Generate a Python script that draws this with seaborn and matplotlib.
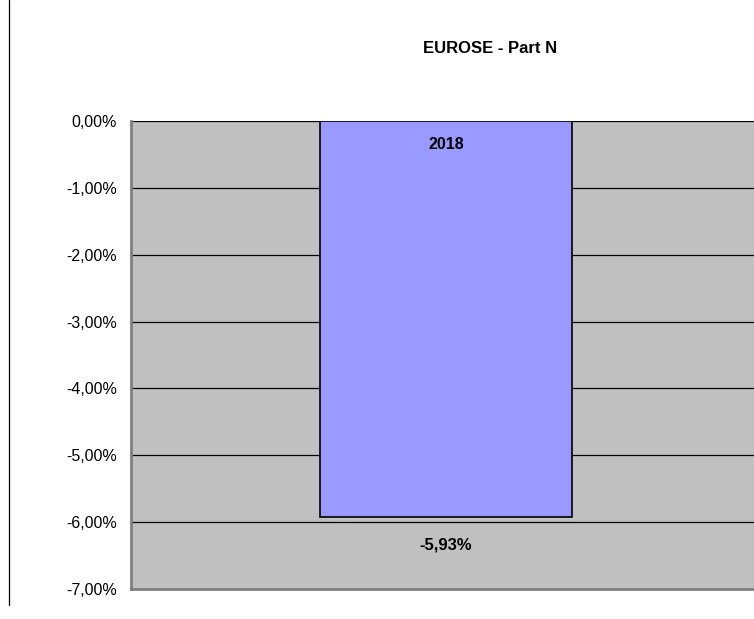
import matplotlib
matplotlib.use('Agg')
import matplotlib.pyplot as plt
import seaborn as sns
import pandas as pd
from matplotlib.ticker import FuncFormatter, MultipleLocator
from matplotlib.lines import Line2D

# 데이터
years = ['2018']
values = [-5.93]
value_labels = ['-5,93%']

sns.set_style('white')
plt.rcParams['font.family'] = ['Liberation Sans Narrow', 'Liberation Sans', 'DejaVu Sans']
plt.rcParams['text.color'] = 'black'
plt.rcParams['ytick.color'] = 'black'
plt.rcParams['ytick.labelcolor'] = 'black'

df = pd.DataFrame({'year': years, 'value': values})

fig = plt.figure(figsize=(7.54, 6.19), dpi=100)
ax = fig.add_axes([0.1737, 0.0485, 0.836, 0.756])
ax.set_facecolor('#C0C0C0')

sns.barplot(data=df, x='year', y='value', ax=ax, color='#9999FF',
            saturation=1, width=0.8, edgecolor='black', linewidth=1.2, zorder=3)

ax.set_ylim(-7, 0)
ax.set_xlim(-1.0, 1.0)
ax.yaxis.set_major_locator(MultipleLocator(1))
ax.yaxis.set_major_formatter(FuncFormatter(lambda v, p: f'{v:.2f}%'.replace('.', ',')))
ax.grid(axis='y', color='black', linewidth=0.9, zorder=1)
ax.set_axisbelow(True)
ax.set_xticks([])
ax.set_xlabel('')
ax.set_ylabel('')
ax.tick_params(axis='y', direction='out', length=4, width=1, color='black',
               labelcolor='black', labelsize=11.5, pad=6)

for side in ['top', 'right']:
    ax.spines[side].set_visible(False)
ax.spines['left'].set_color('#808080')
ax.spines['left'].set_linewidth(2)
ax.spines['bottom'].set_color('#808080')
ax.spines['bottom'].set_linewidth(2)

# 레이블
for i, (yr, v, lab) in enumerate(zip(years, values, value_labels)):
    ax.text(i, -0.24, yr, ha='center', va='top', fontsize=11.5, fontweight='bold',
            color='black', zorder=4)
    ax.text(i, v - 0.3, lab, ha='center', va='top', fontsize=12, fontweight='bold',
            color='black', zorder=4)

fig.text(0.65, 0.922, 'EUROSE - Part N', ha='center', va='center',
         fontsize=12, fontweight='bold', color='black')

fig.add_artist(Line2D([0.0125, 0.0125], [1.0, 0.022], color='black', linewidth=0.9))

plt.savefig('out.png', dpi=100)
